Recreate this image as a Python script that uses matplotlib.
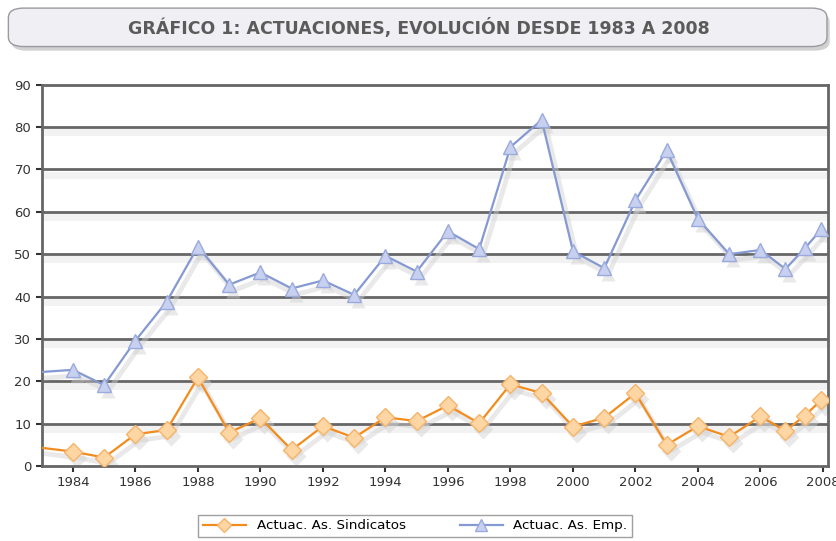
import numpy as np
import matplotlib.pyplot as plt
from matplotlib.patches import FancyBboxPatch
import matplotlib.patheffects as pe
import matplotlib.transforms as mtransforms

# data
years = [1983, 1984, 1985, 1986, 1987, 1988, 1989, 1990, 1991, 1992, 1993, 1994,
         1995, 1996, 1997, 1998, 1999, 2000, 2001, 2002, 2003, 2004, 2005, 2006,
         2006.8, 2007.42, 2007.95]
sindicatos = [4.3, 3.4, 2.0, 7.5, 8.5, 20.9, 7.9, 11.3, 3.8, 9.4, 6.7, 11.5,
              10.6, 14.3, 10.1, 19.3, 17.2, 9.3, 11.4, 17.2, 5.0, 9.4, 6.9, 11.7,
              8.3, 11.9, 15.6]
empresariales = [22.2, 22.7, 19.1, 29.6, 38.8, 51.8, 42.8, 45.7, 41.9, 43.8, 40.4, 49.6,
                 45.9, 55.4, 51.2, 75.3, 81.7, 50.7, 46.7, 62.7, 74.5, 58.3, 50.0, 51.0,
                 46.5, 51.4, 55.9]
labels = ["Actuac. As. Sindicatos", "Actuac. As. Emp."]
title = "GRÁFICO 1: ACTUACIONES, EVOLUCIÓN DESDE 1983 A 2008"

fig = plt.figure(figsize=(8.37, 5.41), dpi=100)
ax = fig.add_axes([0.0498, 0.1386, 0.9394, 0.7048])

# title box
box = FancyBboxPatch((0.010, 0.914), 0.978, 0.071, boxstyle="round,pad=0,rounding_size=0.018",
                     transform=fig.transFigure, facecolor="#f0f0f4", edgecolor="#9a9aa0",
                     linewidth=1.0, zorder=1,
                     path_effects=[pe.SimplePatchShadow(offset=(2, -3), shadow_rgbFace="#999999", alpha=0.45),
                                   pe.Normal()])
fig.patches.append(box)
fig.text(0.5, 0.949, title, ha="center", va="center", fontsize=12.5, fontweight="bold",
         color="#5b5b5b")

# grid lines with faint shadow
for v in range(10, 90, 10):
    ax.axhline(v - 1.2, color="#f2f2f2", linewidth=5, zorder=0.5)
    ax.axhline(v, color="#666666", linewidth=2, zorder=1)

# soft shadows of the series
shadow_tr = mtransforms.offset_copy(ax.transData, fig=fig, x=4, y=-6, units="dots")
for vals, mk in [(sindicatos, "D"), (empresariales, "^")]:
    ax.plot(years, vals, color="#d0d0d0", linewidth=3.5, alpha=0.45, marker=mk, markersize=10,
            markerfacecolor="#cfcfcf", markeredgecolor="none", transform=shadow_tr, zorder=2,
            markevery=list(range(1, len(years))))

ax.plot(years, sindicatos, color="#f28c1e", linewidth=1.6, marker="D", markersize=9,
        markerfacecolor="#fdd6a4", markeredgecolor="#f6b46a", markeredgewidth=1,
        label=labels[0], zorder=3, markevery=list(range(1, len(years))))
ax.plot(years, empresariales, color="#8599d2", linewidth=1.6, marker="^", markersize=10,
        markerfacecolor="#c7d1ef", markeredgecolor="#9aaadc", markeredgewidth=1,
        label=labels[1], zorder=3, markevery=list(range(1, len(years))))

ax.set_xlim(1983, 2008.16)
ax.set_ylim(0, 90)
ax.set_xticks(np.arange(1984, 2009, 2))
ax.set_yticks(np.arange(0, 91, 10))
for s in ax.spines.values():
    s.set_color("#666666")
    s.set_linewidth(2)
ax.tick_params(colors="#333333", labelsize=9.5, length=4, width=1.5)
ax.tick_params(axis="x", pad=3)

fig.legend(loc="center", bbox_to_anchor=(0.496, 0.028), ncol=2, frameon=True, fancybox=False,
           edgecolor="#888888", fontsize=9.7, handlelength=3.2, columnspacing=4,
           borderpad=0.35, markerscale=0.8)

plt.savefig("out.png", dpi=100)
